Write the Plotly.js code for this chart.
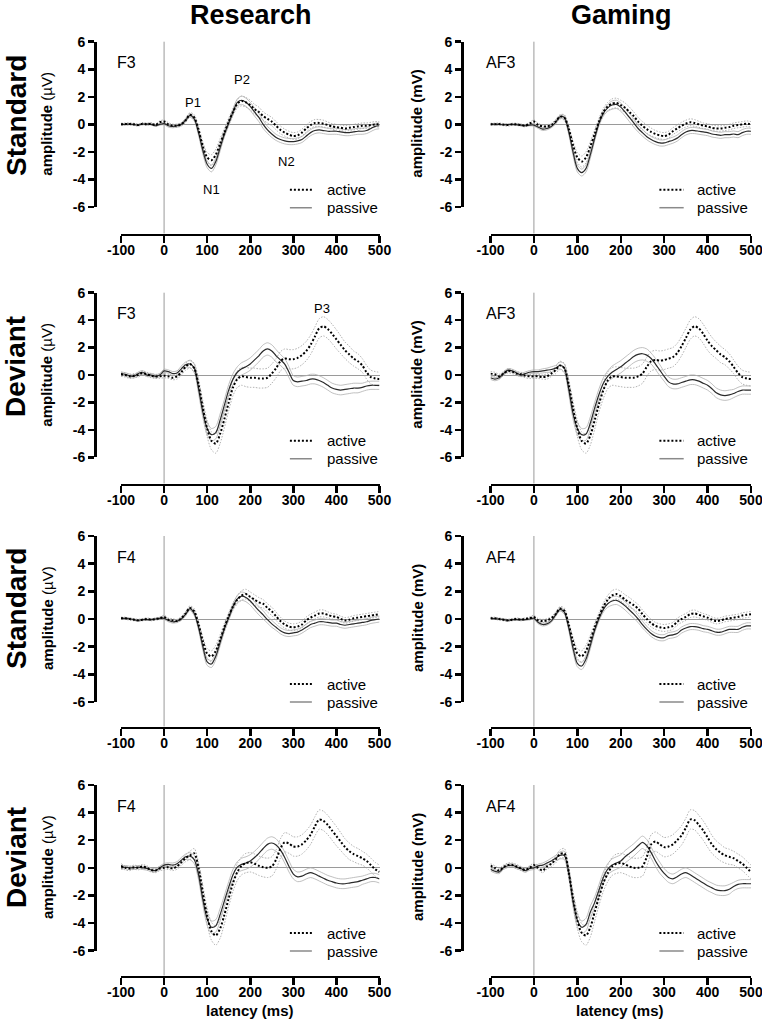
<!DOCTYPE html>
<html><head><meta charset="utf-8">
<script src="https://cdn.plot.ly/plotly-3.0.1.min.js"></script>
<style>html,body{margin:0;padding:0;background:#fff}#chart{width:762px;height:1026px}</style>
</head><body><div id="chart"></div>
<script>
// ---------- DATA ----------
const latency = [-100,-90,-80,-70,-60,-50,-40,-30,-20,-10,0,10,20,30,40,50,60,70,80,90,100,110,120,130,140,150,160,170,180,190,200,210,220,230,240,250,260,270,280,290,300,310,320,330,340,350,360,370,380,390,400,410,420,430,440,450,460,470,480,490,500];
const columnTitles = ['Research','Gaming'];
const rowTitles = ['Standard','Deviant','Standard','Deviant'];
const electrodes = [['F3','AF3'],['F3','AF3'],['F4','AF4'],['F4','AF4']];
const xTicks = [-100,0,100,200,300,400,500];
const yTicks = [-6,-4,-2,0,2,4,6];
const legendLabels = ['active','passive'];

// Research, Standard, F3
const resStdF3Active = [0,0.02,0.03,0,-0.05,0.05,0,0.05,-0.05,0.15,0.2, 0,-0.1,-0.1,0,0.3, 0.7,0.5,-0.4,-1.6,-2.4,-2.6,-2.2,-1.4,-0.6,0.2,0.9,1.5,1.7,1.6,1.4,1.1,0.9,0.6,0.4,0.2,-0.1,-0.4,-0.6,-0.75,-0.85,-0.8,-0.6,-0.3,-0.05,0.1,0.1,0.05,-0.05,-0.15,-0.2,-0.25,-0.3,-0.25,-0.2,-0.15,-0.1,-0.1,-0.05,0,0];
const resStdF3Passive = [0,0,0.02,-0.02,-0.05,0.02,0.02,0,-0.1,0,0.05, -0.1,-0.15,-0.1,0,0.3, 0.65,0.4,-0.6,-1.9,-2.9,-3.2,-2.7,-1.7,-0.7,0.1,0.9,1.6,1.75,1.6,1.3,0.9,0.5,0,-0.4,-0.7,-0.95,-1.1,-1.2,-1.25,-1.25,-1.2,-1.1,-0.85,-0.6,-0.45,-0.4,-0.45,-0.5,-0.5,-0.5,-0.55,-0.6,-0.6,-0.55,-0.5,-0.5,-0.45,-0.3,-0.15,-0.1];
// Gaming, Standard, AF3
const gamStdAF3Active = [0,0,0.02,-0.02,-0.05,0,0,-0.05,-0.1,0.05,0.2, -0.05,-0.15,-0.15,-0.05,0.2, 0.55,0.5,-0.3,-1.5,-2.4,-2.7,-2.4,-1.6,-0.7,0.2,0.9,1.3,1.5,1.55,1.4,1.2,0.9,0.6,0.2,-0.1,-0.35,-0.55,-0.7,-0.8,-0.85,-0.75,-0.5,-0.3,-0.1,0.05,0.15,0.1,0,-0.1,-0.15,-0.25,-0.3,-0.3,-0.25,-0.2,-0.1,-0.05,0,0.05,0];
const gamStdAF3Passive = [0,0.02,0,-0.03,-0.02,0,-0.03,-0.05,-0.1,-0.05,-0.05, -0.2,-0.35,-0.3,-0.15,0.15, 0.55,0.5,-0.5,-2.0,-3.2,-3.5,-3.2,-2.2,-1.0,0.1,0.8,1.2,1.4,1.45,1.25,0.9,0.5,0.1,-0.3,-0.6,-0.9,-1.1,-1.25,-1.35,-1.35,-1.25,-1.15,-1.0,-0.75,-0.55,-0.45,-0.45,-0.5,-0.55,-0.6,-0.7,-0.75,-0.8,-0.75,-0.75,-0.7,-0.75,-0.6,-0.5,-0.5];
// Research, Deviant, F3
const resDevF3Active = [0.05,0,-0.1,-0.05,0,0.15,0.05,-0.05,-0.1,-0.1,-0.05, -0.1,-0.2,-0.1,0.2,0.6, 0.8,0.5,-0.7,-2.4,-3.9,-4.8,-5.0,-4.3,-3.2,-2.0,-0.9,-0.3,-0.1,-0.15,-0.2,-0.2,-0.25,-0.25,-0.2,0.1,0.5,1.0,1.2,1.15,1.15,1.25,1.45,1.75,2.2,2.8,3.4,3.55,3.35,3.0,2.6,2.2,1.8,1.5,1.2,1.0,0.7,0.2,-0.15,-0.25,-0.3];
const resDevF3Passive = [0.1,0.05,-0.05,-0.1,0.1,0.2,0,0,-0.1,0,0.3, 0.25,0.1,0.15,0.45,0.75, 0.8,0.5,-1.0,-2.7,-3.9,-4.35,-4.2,-3.3,-2.2,-1.1,-0.3,0.2,0.45,0.6,0.8,1.1,1.4,1.75,1.9,1.75,1.4,1.1,0.8,0.2,-0.4,-0.5,-0.45,-0.4,-0.3,-0.3,-0.4,-0.55,-0.75,-0.95,-1.05,-1.1,-1.05,-1.0,-0.95,-0.95,-0.9,-0.8,-0.75,-0.75,-0.75];
// Gaming, Deviant, AF3
const gamDevAF3Active = [0.1,0.05,-0.1,0.1,0.3,0.25,0.1,0.05,-0.05,-0.1,-0.1, -0.1,-0.15,-0.1,0.1,0.35, 0.7,0.5,-0.7,-2.4,-3.9,-4.8,-5.0,-4.4,-3.3,-2.1,-1.1,-0.4,-0.1,-0.1,-0.15,-0.2,-0.2,-0.2,-0.1,0.1,0.6,1.0,1.1,1.05,1.1,1.2,1.3,1.6,2.1,2.7,3.3,3.55,3.4,3.0,2.5,2.1,1.8,1.5,1.3,1.0,0.6,0.15,-0.15,-0.25,-0.3];
const gamDevAF3Passive = [-0.2,-0.3,-0.2,0.1,0.35,0.3,0.15,0,0.1,0.2,0.25, 0.25,0.3,0.35,0.4,0.5, 0.7,0.5,-1.0,-2.8,-3.9,-4.35,-4.3,-3.5,-2.4,-1.4,-0.6,-0.1,0.2,0.4,0.6,0.85,1.1,1.35,1.5,1.55,1.45,1.2,0.8,0.35,-0.1,-0.5,-0.65,-0.65,-0.55,-0.45,-0.35,-0.35,-0.45,-0.6,-0.75,-1.0,-1.3,-1.45,-1.5,-1.45,-1.35,-1.2,-1.1,-1.1,-1.1];
// Research, Standard, F4
const resStdF4Active = [0.05,0.05,0,-0.05,-0.1,-0.05,0,-0.05,0,0.05,0.15, -0.05,-0.1,-0.15,0.05,0.4, 0.8,0.55,-0.4,-1.6,-2.5,-2.7,-2.3,-1.5,-0.6,0.2,0.9,1.4,1.7,1.8,1.6,1.4,1.2,1.1,0.8,0.55,0.2,-0.15,-0.4,-0.55,-0.6,-0.55,-0.4,-0.1,0.1,0.25,0.4,0.4,0.3,0.2,0.15,0,-0.1,-0.05,0.05,0.1,0.15,0.2,0.25,0.3,0.35];
const resStdF4Passive = [0.05,0.05,0.02,-0.05,-0.1,-0.05,-0.05,-0.05,0,0.05,0.05, -0.1,-0.2,-0.15,0,0.35, 0.75,0.4,-0.6,-2.0,-3.1,-3.25,-2.7,-1.7,-0.7,0.1,0.9,1.45,1.65,1.55,1.3,0.95,0.6,0.3,-0.05,-0.35,-0.6,-0.85,-1.0,-1.05,-1.0,-0.95,-0.8,-0.6,-0.4,-0.3,-0.2,-0.2,-0.25,-0.3,-0.3,-0.4,-0.45,-0.4,-0.35,-0.3,-0.25,-0.2,-0.1,-0.05,0];
// Gaming, Standard, AF4
const gamStdAF4Active = [0.05,0.05,0,-0.05,-0.1,-0.05,0,-0.05,0,0.05,0.15, -0.1,-0.15,-0.1,0.05,0.35, 0.75,0.6,-0.4,-1.6,-2.5,-2.7,-2.3,-1.5,-0.6,0.2,0.9,1.4,1.7,1.8,1.65,1.4,1.2,1.0,0.75,0.35,0,-0.3,-0.5,-0.6,-0.65,-0.6,-0.5,-0.2,0,0.15,0.35,0.4,0.3,0.2,0.1,-0.05,-0.15,-0.1,0,0.05,0.1,0.15,0.25,0.3,0.35];
const gamStdAF4Passive = [0.05,0.02,0,-0.05,-0.1,-0.05,-0.05,-0.05,-0.05,0,0.05, -0.25,-0.4,-0.35,-0.15,0.3, 0.7,0.5,-0.6,-2.1,-3.2,-3.4,-2.9,-1.9,-0.8,0.05,0.7,1.1,1.3,1.35,1.2,0.95,0.65,0.35,0,-0.4,-0.75,-1.05,-1.25,-1.35,-1.35,-1.2,-1.15,-1.05,-0.8,-0.65,-0.55,-0.55,-0.6,-0.7,-0.75,-0.85,-0.95,-0.95,-0.85,-0.75,-0.75,-0.75,-0.6,-0.5,-0.5];
// Research, Deviant, F4
const resDevF4Active = [0.15,0,-0.05,0.05,0,0.1,0,-0.15,-0.2,-0.05,0, 0.05,-0.05,0.1,0.4,0.7, 0.9,1.05,0,-1.8,-3.5,-4.6,-4.9,-4.4,-3.4,-2.2,-1.1,-0.3,0.15,0.35,0.4,0.3,0.15,0.05,0,0.1,0.6,1.4,1.85,1.75,1.55,1.55,1.7,2.0,2.4,3.0,3.5,3.4,3.1,2.7,2.3,1.9,1.5,1.2,1.0,0.85,0.7,0.5,0.2,-0.1,-0.3];
const resDevF4Passive = [0,0.05,0,0,0.05,0,-0.05,-0.15,-0.2,0,0.2, 0.25,0.2,0.3,0.55,0.8, 0.85,0.6,-0.5,-2.3,-3.7,-4.3,-4.2,-3.4,-2.4,-1.4,-0.5,0.05,0.25,0.35,0.5,0.75,1.05,1.4,1.7,1.8,1.65,1.3,0.75,0.1,-0.45,-0.65,-0.6,-0.45,-0.35,-0.45,-0.6,-0.75,-0.9,-1.0,-1.1,-1.15,-1.15,-1.1,-1.05,-1.0,-0.9,-0.8,-0.7,-0.7,-0.8];
// Gaming, Deviant, AF4
const gamDevAF4Active = [0.15,0,-0.2,0.05,0.2,0.2,0.1,-0.05,-0.15,0,0.2, 0,-0.2,0.1,0.3,0.6, 1.0,1.05,-0.3,-2.2,-3.8,-4.7,-4.9,-4.3,-3.2,-2.1,-1.1,-0.4,0.1,0.3,0.35,0.25,0.1,0,0,0.1,0.8,1.7,1.9,1.7,1.5,1.55,1.7,2.0,2.35,2.9,3.5,3.45,3.1,2.7,2.2,1.7,1.35,1.1,0.9,0.8,0.7,0.5,0.3,0,-0.3];
const gamDevAF4Passive = [-0.1,-0.25,-0.3,0,0.15,0.2,0.05,-0.05,-0.2,-0.05,0, 0.15,0.2,0.35,0.5,0.7, 0.9,0.9,-0.3,-2.4,-3.8,-4.3,-4.1,-3.2,-2.5,-1.6,-0.7,-0.1,0.2,0.35,0.5,0.8,1.05,1.3,1.6,1.85,1.6,1.1,0.5,0,-0.4,-0.7,-0.8,-0.65,-0.45,-0.35,-0.5,-0.7,-0.9,-1.1,-1.3,-1.45,-1.6,-1.65,-1.65,-1.55,-1.35,-1.2,-1.15,-1.15,-1.15];

// standard errors (half-width of the grey bands)
const stdActiveSE = [0.08,0.08,0.08,0.08,0.08,0.08,0.08,0.08,0.08,0.1,0.12, 0.12,0.12,0.12,0.12,0.15, 0.15,0.2,0.25,0.3,0.35,0.4,0.4,0.35,0.3,0.25,0.25,0.3,0.35,0.35,0.35,0.35,0.35,0.3,0.3,0.3,0.3,0.28,0.25,0.25,0.25,0.25,0.25,0.25,0.25,0.25,0.25,0.25,0.22,0.2,0.2,0.2,0.2,0.2,0.2,0.2,0.2,0.2,0.2,0.2,0.2];
const stdPassiveSE = [0.05,0.05,0.05,0.05,0.05,0.05,0.05,0.05,0.05,0.06,0.08, 0.1,0.1,0.1,0.1,0.12, 0.12,0.15,0.2,0.25,0.25,0.25,0.25,0.25,0.2,0.2,0.2,0.25,0.3,0.3,0.3,0.3,0.3,0.3,0.25,0.25,0.22,0.22,0.22,0.22,0.22,0.22,0.22,0.22,0.22,0.22,0.22,0.22,0.22,0.22,0.22,0.22,0.22,0.22,0.22,0.22,0.22,0.22,0.22,0.22,0.22];
const devActiveSE = [0.15,0.15,0.15,0.15,0.15,0.15,0.15,0.15,0.15,0.15,0.15, 0.15,0.15,0.2,0.2,0.25, 0.3,0.35,0.4,0.5,0.6,0.65,0.7,0.7,0.65,0.6,0.6,0.6,0.65,0.7,0.7,0.7,0.7,0.7,0.7,0.7,0.7,0.7,0.7,0.7,0.7,0.7,0.7,0.7,0.7,0.7,0.7,0.7,0.7,0.7,0.7,0.65,0.6,0.6,0.55,0.55,0.5,0.5,0.5,0.5,0.5];
const devPassiveSE = [0.12,0.12,0.12,0.12,0.12,0.12,0.12,0.12,0.12,0.12,0.12, 0.12,0.15,0.15,0.2,0.2, 0.25,0.3,0.35,0.4,0.45,0.45,0.45,0.45,0.4,0.4,0.4,0.4,0.45,0.45,0.45,0.45,0.45,0.45,0.45,0.45,0.45,0.4,0.4,0.4,0.35,0.35,0.35,0.35,0.35,0.35,0.35,0.35,0.35,0.35,0.35,0.35,0.35,0.35,0.35,0.35,0.3,0.3,0.3,0.3,0.3];

// panel order: row by row, left (Research) then right (Gaming)
const panelActive = [resStdF3Active, gamStdAF3Active, resDevF3Active, gamDevAF3Active, resStdF4Active, gamStdAF4Active, resDevF4Active, gamDevAF4Active];
const panelPassive = [resStdF3Passive, gamStdAF3Passive, resDevF3Passive, gamDevAF3Passive, resStdF4Passive, gamStdAF4Passive, resDevF4Passive, gamDevAF4Passive];
const panelActiveSE = [stdActiveSE, stdActiveSE, devActiveSE, devActiveSE, stdActiveSE, stdActiveSE, devActiveSE, devActiveSE];
const panelPassiveSE = [stdPassiveSE, stdPassiveSE, devPassiveSE, devPassiveSE, stdPassiveSE, stdPassiveSE, devPassiveSE, devPassiveSE];

// component labels (panel index, text, latency, amplitude)
const peakPanel = [0,0,0,0,2];
const peakText = ['P1','P2','N1','N2','P3'];
const peakLatency = [67,181,109,285,367];
const peakAmplitude = [1.57,3.24,-4.74,-2.7,4.86];

// ---------- LAYOUT ----------
const W = 762, H = 1026;
const FONT = 'Liberation Sans, Arial, Helvetica, sans-serif';
const colDomainPx = [[121,379.5],[490.5,751]];
const yAxisPx = [95, 462];
const rowTopPx = [41.7, 292.7, 536, 785];
const rowBotPx = [207, 457.3, 702, 950.7];
const xAxisPx = [234.5, 484.5, 727.5, 976.5];
const electrodeXPx = [126, 500];
const ampXPx = [47, 417];
const legendSampleMs = [[292,343],[289,345]];
const legendTextMs = [374, 370];

const px = v => v / W;
const py = v => 1 - v / H;

const traces = [];
const layout = {
  width: W, height: H,
  margin: {l:0, r:0, t:0, b:0},
  paper_bgcolor: '#fff', plot_bgcolor: 'rgba(0,0,0,0)',
  showlegend: false,
  font: {family: FONT, color: '#000'},
  shapes: [], annotations: []
};

const MEAN_DOT = '2px,2px';
for (let k = 0; k < 8; k++) {
  const r = Math.floor(k / 2), c = k % 2;
  const sfx = k === 0 ? '' : String(k + 1);
  const xa = 'x' + sfx, ya = 'y' + sfx;
  const act = panelActive[k], pas = panelPassive[k];
  const aSE = panelActiveSE[k], pSE = panelPassiveSE[k];
  const band = (mean, se, sign) => mean.map((v, i) => v + sign * se[i]);

  const bandLine = {color: '#b0b0b0', width: 0.8, shape: 'spline', smoothing: 0.8};
  const actBandLine = Object.assign({}, bandLine, {color: '#a0a0a0', dash: '1.5px,1.5px'});
  traces.push({x: latency, y: band(act, aSE, 1), xaxis: xa, yaxis: ya, mode: 'lines', line: actBandLine, hoverinfo: 'skip'});
  traces.push({x: latency, y: band(act, aSE, -1), xaxis: xa, yaxis: ya, mode: 'lines', line: actBandLine, hoverinfo: 'skip'});
  traces.push({x: latency, y: band(pas, pSE, 1), xaxis: xa, yaxis: ya, mode: 'lines', line: bandLine, hoverinfo: 'skip'});
  traces.push({x: latency, y: band(pas, pSE, -1), xaxis: xa, yaxis: ya, mode: 'lines', line: bandLine, hoverinfo: 'skip'});
  traces.push({x: latency, y: pas, xaxis: xa, yaxis: ya, mode: 'lines', name: legendLabels[1], line: {color: '#2a2a2a', width: 1.2, shape: 'spline', smoothing: 0.8}});
  traces.push({x: latency, y: act, xaxis: xa, yaxis: ya, mode: 'lines', name: legendLabels[0], line: {color: '#000', width: 2, dash: MEAN_DOT, shape: 'spline', smoothing: 0.8}});

  layout['xaxis' + sfx] = {
    domain: [px(colDomainPx[c][0]), px(colDomainPx[c][1])],
    range: [-100, 500], anchor: 'free', position: py(xAxisPx[r]),
    tickmode: 'array', tickvals: xTicks, ticktext: xTicks.map(String),
    ticks: 'outside', ticklen: 7, tickwidth: 2.5, tickcolor: '#000',
    ticklabelstandoff: -5, ticklabeloverflow: 'allow',
    showline: true, linewidth: 2.5, linecolor: '#000',
    showgrid: false, zeroline: false, fixedrange: true,
    tickfont: {family: FONT, size: 14, color: '#000', weight: 700}
  };
  layout['yaxis' + sfx] = {
    domain: [py(rowBotPx[r]), py(rowTopPx[r])],
    range: [-6, 6], anchor: 'free', position: px(yAxisPx[c]),
    tickmode: 'array', tickvals: yTicks, ticktext: yTicks.map(String),
    ticks: 'outside', ticklen: 6, tickwidth: 2.5, tickcolor: '#000',
    ticklabelstandoff: 0, ticklabeloverflow: 'allow',
    showline: true, linewidth: 2.5, linecolor: '#000',
    showgrid: false, zeroline: true, zerolinecolor: '#9a9a9a', zerolinewidth: 1, fixedrange: true,
    tickfont: {family: FONT, size: 14, color: '#000', weight: 700}
  };

  // vertical line at stimulus onset, from top down to the x axis
  layout.shapes.push({type: 'line', xref: xa, yref: 'paper', x0: 0, x1: 0, y0: py(xAxisPx[r] - 1), y1: py(rowTopPx[r]), line: {color: '#9a9a9a', width: 1}, layer: 'below'});

  // legend samples
  const ly1 = rowTopPx[r] + 148, ly2 = rowTopPx[r] + 166;
  layout.shapes.push({type: 'line', xref: xa, yref: 'paper', x0: legendSampleMs[c][0], x1: legendSampleMs[c][1], y0: py(ly1), y1: py(ly1), line: {color: '#000', width: 2, dash: MEAN_DOT}});
  layout.shapes.push({type: 'line', xref: xa, yref: 'paper', x0: legendSampleMs[c][0], x1: legendSampleMs[c][1], y0: py(ly2), y1: py(ly2), line: {color: '#8a8a8a', width: 1.5}});
  layout.annotations.push({xref: xa, yref: 'paper', x: legendTextMs[c], y: py(ly1), xanchor: 'left', yanchor: 'middle', text: legendLabels[0], showarrow: false, font: {family: FONT, size: 15, color: '#000'}});
  layout.annotations.push({xref: xa, yref: 'paper', x: legendTextMs[c], y: py(ly2), xanchor: 'left', yanchor: 'middle', text: legendLabels[1], showarrow: false, font: {family: FONT, size: 15, color: '#000'}});

  // electrode label
  layout.annotations.push({xref: 'paper', yref: 'paper', x: px(electrodeXPx[c]), y: py(rowTopPx[r] + 21), xanchor: 'center', yanchor: 'middle', text: electrodes[r][c], showarrow: false, font: {family: FONT, size: 16, color: '#000'}});

  // y axis title
  const ampText = c === 0 ? '<b>amplitude</b> (µV)' : '<b>amplitude (mV)</b>';
  layout.annotations.push({xref: 'paper', yref: 'paper', x: px(ampXPx[c]), y: py(rowTopPx[r] + 82), xanchor: 'center', yanchor: 'middle', textangle: -90, text: ampText, showarrow: false, font: {family: FONT, size: 15, color: '#000'}});
}

// column titles
const colTitleX = [251, 621];
columnTitles.forEach((t, c) => layout.annotations.push({xref: 'paper', yref: 'paper', x: px(colTitleX[c]), y: py(15), xanchor: 'center', yanchor: 'middle', text: '<b>' + t + '</b>', showarrow: false, font: {family: FONT, size: 27, color: '#000'}}));
// row titles
const rowTitleY = [116, 367, 609, 858];
rowTitles.forEach((t, r) => layout.annotations.push({xref: 'paper', yref: 'paper', x: px(16), y: py(rowTitleY[r]), xanchor: 'center', yanchor: 'middle', textangle: -90, text: '<b>' + t + '</b>', showarrow: false, font: {family: FONT, size: 28, color: '#000'}}));
// x axis titles (bottom row)
const latTitleX = [250, 620];
latTitleX.forEach(x => layout.annotations.push({xref: 'paper', yref: 'paper', x: px(x), y: py(1010), xanchor: 'center', yanchor: 'middle', text: '<b>latency (ms)</b>', showarrow: false, font: {family: FONT, size: 15, color: '#000'}}));
// component labels
peakText.forEach((t, i) => {
  const k = peakPanel[i];
  const sfx = k === 0 ? '' : String(k + 1);
  layout.annotations.push({xref: 'x' + sfx, yref: 'y' + sfx, x: peakLatency[i], y: peakAmplitude[i], xanchor: 'center', yanchor: 'middle', text: t, showarrow: false, font: {family: FONT, size: 13, color: '#000'}});
});

Plotly.newPlot('chart', traces, layout, {staticPlot: true, displayModeBar: false});
</script>
</body></html>
